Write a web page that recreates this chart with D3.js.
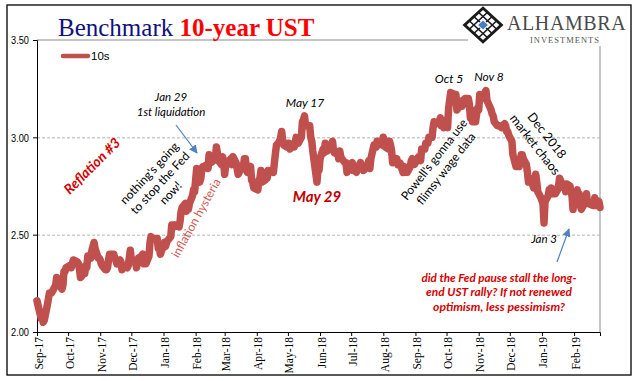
<!DOCTYPE html>
<html><head><meta charset="utf-8">
<script src="https://cdn.jsdelivr.net/npm/d3@7"></script>
<style>body{margin:0;background:#fff}svg{display:block}</style>
</head><body><svg id="c" width="641" height="381"></svg>
<script>
// ---------- DATA ----------
const dates = [
"2017-09-01","2017-09-05","2017-09-06","2017-09-07","2017-09-08","2017-09-11","2017-09-12","2017-09-13","2017-09-14","2017-09-15","2017-09-18","2017-09-19","2017-09-20","2017-09-21","2017-09-22","2017-09-25","2017-09-26","2017-09-27","2017-09-28","2017-09-29",
"2017-10-02","2017-10-03","2017-10-04","2017-10-05","2017-10-06","2017-10-10","2017-10-11","2017-10-12","2017-10-13","2017-10-16","2017-10-17","2017-10-18","2017-10-19","2017-10-20","2017-10-23","2017-10-24","2017-10-25","2017-10-26","2017-10-27","2017-10-30","2017-10-31",
"2017-11-01","2017-11-02","2017-11-03","2017-11-06","2017-11-07","2017-11-08","2017-11-09","2017-11-10","2017-11-13","2017-11-14","2017-11-15","2017-11-16","2017-11-17","2017-11-20","2017-11-21","2017-11-22","2017-11-24","2017-11-27","2017-11-28","2017-11-29","2017-11-30",
"2017-12-01","2017-12-04","2017-12-05","2017-12-06","2017-12-07","2017-12-08","2017-12-11","2017-12-12","2017-12-13","2017-12-14","2017-12-15","2017-12-18","2017-12-19","2017-12-20","2017-12-21","2017-12-22","2017-12-26","2017-12-27","2017-12-28","2017-12-29",
"2018-01-02","2018-01-03","2018-01-04","2018-01-05","2018-01-08","2018-01-09","2018-01-10","2018-01-11","2018-01-12","2018-01-16","2018-01-17","2018-01-18","2018-01-19","2018-01-22","2018-01-23","2018-01-24","2018-01-25","2018-01-26","2018-01-29","2018-01-30","2018-01-31",
"2018-02-01","2018-02-02","2018-02-05","2018-02-06","2018-02-07","2018-02-08","2018-02-09","2018-02-12","2018-02-13","2018-02-14","2018-02-15","2018-02-16","2018-02-20","2018-02-21","2018-02-22","2018-02-23","2018-02-26","2018-02-27","2018-02-28",
"2018-03-01","2018-03-02","2018-03-05","2018-03-06","2018-03-07","2018-03-08","2018-03-09","2018-03-12","2018-03-13","2018-03-14","2018-03-15","2018-03-16","2018-03-19","2018-03-20","2018-03-21","2018-03-22","2018-03-23","2018-03-26","2018-03-27","2018-03-28","2018-03-29",
"2018-04-02","2018-04-03","2018-04-04","2018-04-05","2018-04-06","2018-04-09","2018-04-10","2018-04-11","2018-04-12","2018-04-13","2018-04-16","2018-04-17","2018-04-18","2018-04-19","2018-04-20","2018-04-23","2018-04-24","2018-04-25","2018-04-26","2018-04-27","2018-04-30",
"2018-05-01","2018-05-02","2018-05-03","2018-05-04","2018-05-07","2018-05-08","2018-05-09","2018-05-10","2018-05-11","2018-05-14","2018-05-15","2018-05-16","2018-05-17","2018-05-18","2018-05-21","2018-05-22","2018-05-23","2018-05-24","2018-05-25","2018-05-29","2018-05-30","2018-05-31",
"2018-06-01","2018-06-04","2018-06-05","2018-06-06","2018-06-07","2018-06-08","2018-06-11","2018-06-12","2018-06-13","2018-06-14","2018-06-15","2018-06-18","2018-06-19","2018-06-20","2018-06-21","2018-06-22","2018-06-25","2018-06-26","2018-06-27","2018-06-28","2018-06-29",
"2018-07-02","2018-07-03","2018-07-05","2018-07-06","2018-07-09","2018-07-10","2018-07-11","2018-07-12","2018-07-13","2018-07-16","2018-07-17","2018-07-18","2018-07-19","2018-07-20","2018-07-23","2018-07-24","2018-07-25","2018-07-26","2018-07-27","2018-07-30","2018-07-31",
"2018-08-01","2018-08-02","2018-08-03","2018-08-06","2018-08-07","2018-08-08","2018-08-09","2018-08-10","2018-08-13","2018-08-14","2018-08-15","2018-08-16","2018-08-17","2018-08-20","2018-08-21","2018-08-22","2018-08-23","2018-08-24","2018-08-27","2018-08-28","2018-08-29","2018-08-30","2018-08-31",
"2018-09-04","2018-09-05","2018-09-06","2018-09-07","2018-09-10","2018-09-11","2018-09-12","2018-09-13","2018-09-14","2018-09-17","2018-09-18","2018-09-19","2018-09-20","2018-09-21","2018-09-24","2018-09-25","2018-09-26","2018-09-27","2018-09-28",
"2018-10-01","2018-10-02","2018-10-03","2018-10-04","2018-10-05","2018-10-09","2018-10-10","2018-10-11","2018-10-12","2018-10-15","2018-10-16","2018-10-17","2018-10-18","2018-10-19","2018-10-22","2018-10-23","2018-10-24","2018-10-25","2018-10-26","2018-10-29","2018-10-30","2018-10-31",
"2018-11-01","2018-11-02","2018-11-05","2018-11-06","2018-11-07","2018-11-08","2018-11-09","2018-11-13","2018-11-14","2018-11-15","2018-11-16","2018-11-19","2018-11-20","2018-11-21","2018-11-23","2018-11-26","2018-11-27","2018-11-28","2018-11-29","2018-11-30",
"2018-12-03","2018-12-04","2018-12-06","2018-12-07","2018-12-10","2018-12-11","2018-12-12","2018-12-13","2018-12-14","2018-12-17","2018-12-18","2018-12-19","2018-12-20","2018-12-21","2018-12-24","2018-12-26","2018-12-27","2018-12-28","2018-12-31",
"2019-01-02","2019-01-03","2019-01-04","2019-01-07","2019-01-08","2019-01-09","2019-01-10","2019-01-11","2019-01-14","2019-01-15","2019-01-16","2019-01-17","2019-01-18","2019-01-22","2019-01-23","2019-01-24","2019-01-25","2019-01-28","2019-01-29","2019-01-30","2019-01-31",
"2019-02-01","2019-02-04","2019-02-05","2019-02-06","2019-02-07","2019-02-08","2019-02-11","2019-02-12","2019-02-13","2019-02-14","2019-02-15","2019-02-19","2019-02-20","2019-02-21","2019-02-22","2019-02-25","2019-02-26"
];
const yields10 = [
2.16,2.07,2.10,2.05,2.06,2.14,2.17,2.20,2.20,2.20,2.23,2.24,2.28,2.27,2.26,2.22,2.24,2.31,2.31,2.33,
2.34,2.33,2.33,2.35,2.37,2.36,2.35,2.32,2.28,2.30,2.30,2.34,2.33,2.39,2.38,2.42,2.44,2.46,2.43,2.38,2.38,
2.37,2.35,2.34,2.32,2.32,2.33,2.37,2.40,2.40,2.40,2.38,2.37,2.35,2.37,2.36,2.32,2.34,2.33,2.34,2.38,2.42,
2.37,2.37,2.36,2.33,2.37,2.38,2.39,2.40,2.35,2.35,2.35,2.39,2.46,2.49,2.48,2.48,2.48,2.43,2.43,2.40,
2.46,2.44,2.46,2.47,2.49,2.55,2.55,2.54,2.55,2.54,2.57,2.62,2.64,2.66,2.62,2.65,2.63,2.66,2.70,2.73,2.72,
2.78,2.84,2.77,2.79,2.84,2.85,2.85,2.86,2.84,2.91,2.90,2.87,2.89,2.95,2.92,2.88,2.86,2.90,2.87,
2.81,2.86,2.88,2.88,2.89,2.86,2.90,2.87,2.84,2.81,2.82,2.85,2.85,2.89,2.89,2.83,2.82,2.85,2.78,2.77,2.74,
2.73,2.78,2.79,2.83,2.77,2.78,2.80,2.79,2.83,2.82,2.83,2.82,2.87,2.92,2.96,2.98,3.00,3.03,2.98,2.96,2.95,
2.97,2.97,2.94,2.95,2.95,2.97,3.00,2.97,2.97,3.00,3.08,3.09,3.11,3.06,3.06,3.06,3.00,2.98,2.93,2.77,2.84,2.83,
2.89,2.94,2.92,2.97,2.93,2.93,2.96,2.96,2.98,2.93,2.92,2.92,2.89,2.93,2.90,2.89,2.87,2.87,2.82,2.84,2.85,
2.87,2.83,2.84,2.82,2.86,2.87,2.85,2.85,2.83,2.85,2.86,2.88,2.84,2.89,2.96,2.95,2.95,2.98,2.96,2.98,2.96,
3.00,2.98,2.95,2.94,2.98,2.96,2.93,2.87,2.88,2.89,2.86,2.87,2.87,2.82,2.85,2.82,2.82,2.82,2.85,2.88,2.89,2.86,2.86,
2.90,2.90,2.88,2.94,2.94,2.97,2.97,2.97,3.00,3.00,3.05,3.08,3.07,3.07,3.08,3.10,3.06,3.06,3.05,
3.09,3.05,3.15,3.19,3.23,3.22,3.22,3.14,3.15,3.16,3.16,3.19,3.17,3.20,3.20,3.17,3.10,3.14,3.08,3.08,3.12,3.15,
3.14,3.22,3.20,3.21,3.23,3.24,3.19,3.14,3.12,3.11,3.08,3.06,3.06,3.06,3.05,3.07,3.06,3.03,3.03,3.01,
2.98,2.91,2.87,2.85,2.85,2.88,2.91,2.91,2.89,2.86,2.82,2.77,2.79,2.79,2.74,2.81,2.77,2.72,2.69,
2.66,2.56,2.67,2.70,2.73,2.71,2.74,2.71,2.71,2.72,2.73,2.75,2.79,2.74,2.76,2.72,2.76,2.75,2.72,2.70,2.63,
2.70,2.73,2.70,2.71,2.65,2.63,2.66,2.68,2.71,2.66,2.66,2.65,2.65,2.69,2.65,2.67,2.64
];
const seriesName = "10s";
const yTicks = [2.0, 2.5, 3.0, 3.5];
const xTickDates = ["2017-09-01","2017-10-01","2017-11-01","2017-12-01","2018-01-01","2018-02-01","2018-03-01","2018-04-01","2018-05-01","2018-06-01","2018-07-01","2018-08-01","2018-09-01","2018-10-01","2018-11-01","2018-12-01","2019-01-01","2019-02-01"];
const xDomain = ["2017-09-01","2019-02-26"];

// ---------- CHART ----------
const parse = d3.timeParse("%Y-%m-%d");
const data = dates.map((d,i)=>({date:parse(d), v:yields10[i]}));
const svg = d3.select("#c");
const L=37, R=600, T=40, B=332;
const x = d3.scaleTime().domain(xDomain.map(parse)).range([L,R]);
const y = d3.scaleLinear().domain([2.0,3.5]).range([B,T]);

// plot border (top & right) and gridlines
svg.append("line").attr("x1",L).attr("x2",R).attr("y1",y(3.5)).attr("y2",y(3.5)).attr("stroke","#8c8c8c").attr("stroke-width",1);
svg.append("line").attr("x1",R).attr("x2",R).attr("y1",y(3.5)).attr("y2",B).attr("stroke","#8c8c8c").attr("stroke-width",1);
svg.selectAll(".grid").data(yTicks.filter(v=>v>2 && v<3.5)).enter().append("line")
  .attr("x1",L).attr("x2",R).attr("y1",d=>y(d)+0.5).attr("y2",d=>y(d)+0.5)
  .attr("stroke","#b4b4b4").attr("stroke-dasharray","3,2").attr("stroke-width",1);

// axes
const yAx = svg.append("g").attr("transform",`translate(${L},0)`)
  .call(d3.axisLeft(y).tickValues(yTicks).tickSize(4).tickPadding(4).tickFormat(d3.format(".2f")));
yAx.select(".domain").attr("stroke","#000");
yAx.selectAll("line").attr("stroke","#000");
yAx.selectAll("text").attr("font-family","'Liberation Sans Narrow','Arial Narrow','Liberation Sans',Arial,sans-serif")
  .attr("font-size","11.5px").attr("fill","#000").attr("textLength",18).attr("lengthAdjust","spacingAndGlyphs");

const xAx = svg.append("g").attr("transform",`translate(0,${B})`)
  .call(d3.axisBottom(x).tickValues(xTickDates.map(parse)).tickSize(4).tickFormat(d3.timeFormat("%b-%y")));
xAx.select(".domain").attr("stroke","#000");
xAx.selectAll("line").attr("stroke","#000");
xAx.selectAll("text").attr("font-family","'Liberation Serif','Times New Roman',serif").attr("font-size","11.5px")
  .attr("fill","#000").attr("text-anchor","end").attr("transform","rotate(-90)")
  .attr("x",-5).attr("y",1).attr("dy","0.35em");

// series line
svg.append("path").datum(data)
  .attr("d", d3.line().x(d=>x(d.date)).y(d=>y(d.v)))
  .attr("fill","none").attr("stroke","#C0504D").attr("stroke-width",7.5)
  .attr("stroke-linejoin","round").attr("stroke-linecap","round");

// legend
svg.append("line").attr("x1",63).attr("x2",88).attr("y1",56).attr("y2",56)
  .attr("stroke","#C0504D").attr("stroke-width",4.5).attr("stroke-linecap","round");
svg.append("text").attr("x",91).attr("y",60).text(seriesName)
  .attr("font-family","'Liberation Sans',Arial,sans-serif").attr("font-size","11.5px").attr("fill","#000");

// title
const title = svg.append("text").attr("x",58).attr("y",36).attr("font-family","'Liberation Serif','Times New Roman',serif").attr("font-size","25px");
title.append("tspan").text("Benchmark ").attr("fill","#10107e");
title.append("tspan").text("10-year UST").attr("fill","#ff0000").attr("font-weight","bold");

// annotations
const sans = "Lato,'Open Sans','Liberation Sans',sans-serif";
function ann(cx, cy, lines, o){
  const g = svg.append("g").attr("transform",`translate(${cx},${cy}) rotate(${o.rot||0})`);
  const lh = o.lh||14;
  const n = lines.length;
  lines.forEach((t,i)=>{
    const el = g.append("text").attr("x",0).attr("y",(i-(n-1)/2)*lh).attr("dy","0.35em")
      .attr("text-anchor","middle").attr("font-family",sans).attr("font-size",(o.size||12)+"px")
      .attr("font-style",o.italic?"italic":"normal").attr("font-weight",o.bold?"bold":"normal")
      .attr("fill",o.fill||"#000").text(t);
    if(o.widths && o.widths[i]) el.attr("textLength",o.widths[i]).attr("lengthAdjust","spacingAndGlyphs");
  });
}
ann(92,166,["Reflation #3"],{rot:-45,size:14,bold:true,italic:true,fill:"#d40000"});
ann(171,104,["Jan 29","1st liquidation"],{size:11.5,italic:true,lh:15});
ann(160,183,["nothing's going","to stop the Fed","now!"],{rot:-47,size:12,lh:14.5});
ann(196,218,["inflation hysteria"],{rot:-61,size:12,fill:"#cf5a58"});
ann(305,103,["May 17"],{size:12,italic:true});
ann(317,197,["May 29"],{size:15,bold:true,italic:true,fill:"#c00000"});
ann(449,79,["Oct 5"],{size:12,italic:true});
ann(489,77,["Nov 8"],{size:12,italic:true});
ann(440,164,["Powell's gonna use","flimsy wage data"],{rot:-52,size:12,lh:15});
ann(541,140,["Dec 2018","market chaos"],{rot:52,size:12.5,lh:15});
ann(544,239,["Jan 3"],{size:11.5,italic:true});
ann(499,292,["did the Fed pause stall the long-","end UST rally? If not renewed","optimism, less pessimism?"],
  {size:12,bold:true,italic:true,fill:"#d40000",lh:14.5,widths:[155,146,132]});

// arrows
const defs = svg.append("defs");
defs.append("marker").attr("id","ah").attr("viewBox","0 0 10 10").attr("refX",9).attr("refY",5)
  .attr("markerWidth",7).attr("markerHeight",7).attr("orient","auto")
  .append("path").attr("d","M0,0L10,5L0,10z").attr("fill","#4F81BD");
[[176,125,197,153],[557,262,569,229]].forEach(a=>{
  svg.append("line").attr("x1",a[0]).attr("y1",a[1]).attr("x2",a[2]).attr("y2",a[3])
    .attr("stroke","#4F81BD").attr("stroke-width",1.2).attr("marker-end","url(#ah)");
});

// logo
svg.append("rect").attr("x",468).attr("y",6).attr("width",162).attr("height",40).attr("fill","#fff");
const lg = svg.append("g").attr("transform","translate(483,25) scale(1,0.92) rotate(45)");
lg.append("rect").attr("x",-13).attr("y",-13).attr("width",26).attr("height",26).attr("fill","#fff").attr("stroke","#1a1a1a").attr("stroke-width",3);
[-6.5,0,6.5].forEach(p=>{
  lg.append("line").attr("x1",p).attr("x2",p).attr("y1",-13).attr("y2",13).attr("stroke","#1a1a1a").attr("stroke-width",1.6);
  lg.append("line").attr("y1",p).attr("y2",p).attr("x1",-13).attr("x2",13).attr("stroke","#1a1a1a").attr("stroke-width",1.6);
});
lg.append("rect").attr("x",-4).attr("y",-4).attr("width",8).attr("height",8).attr("fill","#4a7cc4").attr("stroke","#fff").attr("stroke-width",1);
svg.append("text").attr("x",507).attr("y",30).text("ALHAMBRA").attr("font-family","'Liberation Serif','Times New Roman',serif")
  .attr("font-size","20px").attr("letter-spacing","0.6px").attr("fill","#4a4a4a");
svg.append("text").attr("x",565).attr("y",43).text("INVESTMENTS").attr("text-anchor","middle").attr("font-family","'Liberation Serif','Times New Roman',serif")
  .attr("font-size","8.5px").attr("letter-spacing","1px").attr("fill","#555");

// outer frame
svg.append("rect").attr("x",7).attr("y",5).attr("width",624).attr("height",370).attr("fill","none").attr("stroke","#000").attr("stroke-width",1.3);
</script></body></html>
